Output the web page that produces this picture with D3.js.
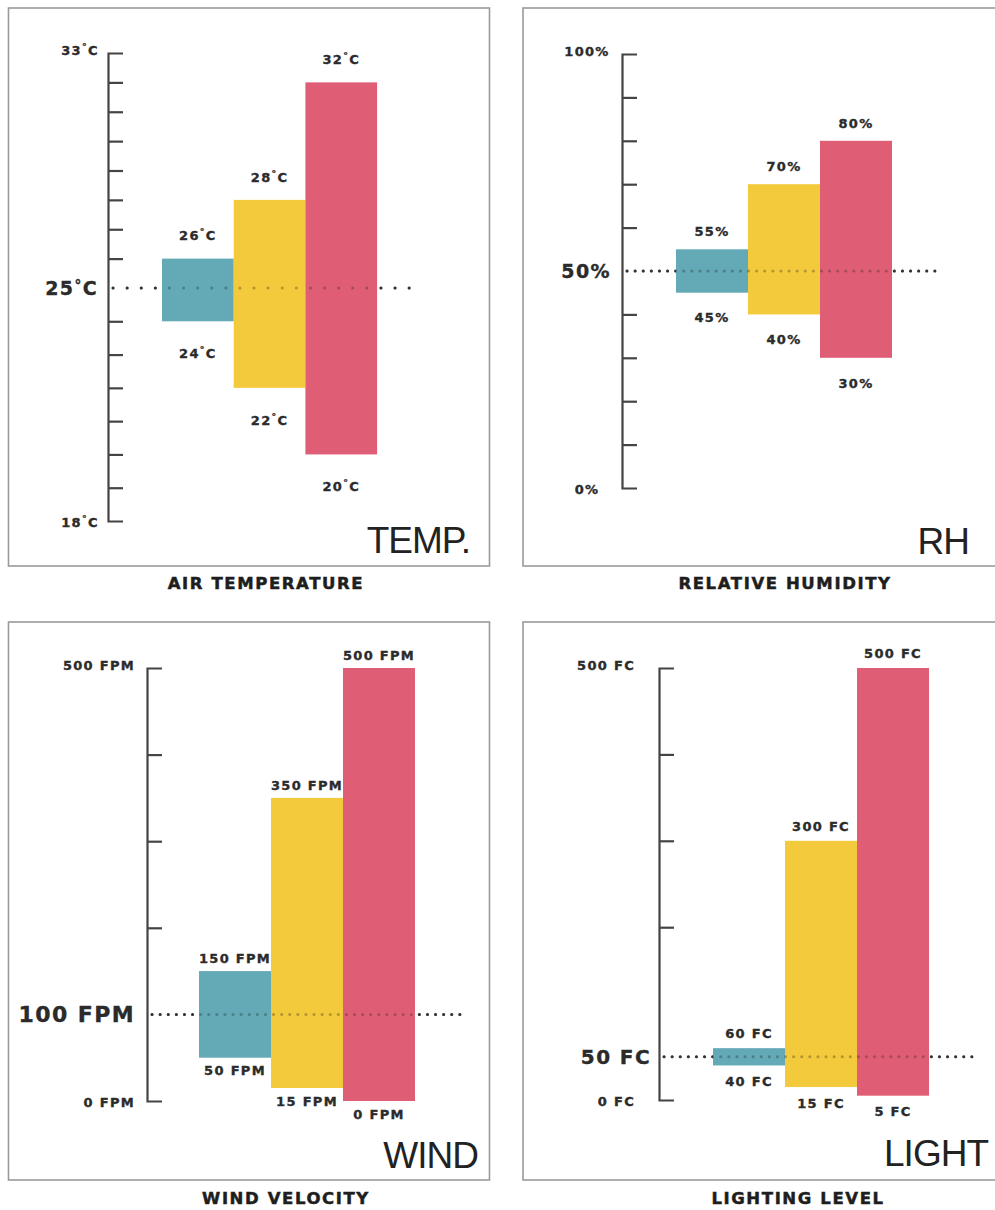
<!DOCTYPE html>
<html>
<head>
<meta charset="utf-8">
<script src="https://cdn.jsdelivr.net/npm/d3@7"></script>
<style>
  body { margin: 0; background: #fff; }
  svg { display: block; }
  .lbl { font-family: "DejaVu Sans", sans-serif; font-weight: bold; fill: #2b2b2b; stroke: #2b2b2b; stroke-width: 0.35px; }
  .title { font-family: "Liberation Sans", Arial, sans-serif; fill: #222; }
</style>
</head>
<body>
<svg id="chart" width="995" height="1210"></svg>
<script>
// Three comfort ranges per factor: narrow (teal), medium (yellow), wide (red)
const rangeColors = ["#5DA5B3", "#F3C834", "#DE5770"];

// Air temperature, °C
const tempLow  = [24, 22, 20];
const tempHigh = [26, 28, 32];
const tempEnds = [18, 33];
const tempRef  = 25;
const tempTicks = d3.range(19, 33).filter(v => v !== 25);

// Relative humidity, %
const rhLow  = [45, 40, 30];
const rhHigh = [55, 70, 80];
const rhEnds = [0, 100];
const rhRef  = 50;
const rhTicks = [10, 20, 30, 40, 60, 70, 80, 90];

// Wind velocity, FPM
const windLow  = [50, 15, 0];
const windHigh = [150, 350, 500];
const windEnds = [0, 500];
const windRef  = 100;
const windTicks = [200, 300, 400];

// Lighting level, FC
const lightLow  = [40, 15, 5];
const lightHigh = [60, 300, 500];
const lightEnds = [0, 500];
const lightRef  = 50;
const lightTicks = [200, 300, 400];

const panelTitles   = ["TEMP.", "RH", "WIND", "LIGHT"];
const panelCaptions = ["AIR TEMPERATURE", "RELATIVE HUMIDITY", "WIND VELOCITY", "LIGHTING LEVEL"];
const unitSuffix    = ["°C", "%", " FPM", " FC"];

const svg = d3.select("#chart");

// Write a value with its unit; the degree sign is set as a small raised mark
function writeValue(text, v, unit) {
  if (unit === "°C") {
    text.append("tspan").text(v);
    text.append("tspan").attr("font-size", "0.72em").attr("dy", -5).text("°");
    text.append("tspan").attr("dy", 5).text("C");
  } else {
    text.text(v + unit);
  }
}

function drawPanel(cfg) {
  const g = svg.append("g");

  // frame
  g.append("rect")
    .attr("x", cfg.frame[0]).attr("y", cfg.frame[1])
    .attr("width", cfg.frame[2] - cfg.frame[0]).attr("height", cfg.frame[3] - cfg.frame[1])
    .attr("fill", "none").attr("stroke", "#9a9a9a").attr("stroke-width", 1.6);

  const y = d3.scaleLinear().domain(cfg.domain).range(cfg.range);
  const x = d3.scaleBand().domain(d3.range(cfg.low.length))
    .range([cfg.barX0, cfg.barX0 + cfg.barW * cfg.low.length]).padding(0);

  // dotted reference line
  g.append("line")
    .attr("x1", cfg.axisX + 5).attr("x2", cfg.dotEnd)
    .attr("y1", y(cfg.ref)).attr("y2", y(cfg.ref))
    .attr("stroke", "#333").attr("stroke-width", 3)
    .attr("stroke-linecap", "round")
    .attr("stroke-dasharray", `0.1 ${cfg.dotGap}`);

  // range bars
  g.selectAll("rect.bar").data(cfg.low).enter().append("rect")
    .attr("class", "bar")
    .attr("x", (d, i) => x(i))
    .attr("width", x.bandwidth())
    .attr("y", (d, i) => y(cfg.high[i]))
    .attr("height", (d, i) => y(d) - y(cfg.high[i]))
    .attr("fill", (d, i) => rangeColors[i])
    .attr("fill-opacity", 0.96);

  // the dots show faintly through the bars
  g.append("line")
    .attr("x1", cfg.axisX + 5).attr("x2", cfg.dotEnd)
    .attr("y1", y(cfg.ref)).attr("y2", y(cfg.ref))
    .attr("stroke", "#333").attr("stroke-opacity", 0.3).attr("stroke-width", 3)
    .attr("stroke-linecap", "round")
    .attr("stroke-dasharray", `0.1 ${cfg.dotGap}`);

  // axis with bracket ends
  const axis = d3.axisRight(y).tickValues(cfg.ticks).tickSize(15).tickSizeOuter(15).tickFormat("");
  const ag = g.append("g").attr("transform", `translate(${cfg.axisX},0)`).call(axis);
  ag.select(".domain").attr("stroke", "#444").attr("stroke-width", 2.2).attr("fill", "none");
  ag.selectAll(".tick line").attr("stroke", "#444").attr("stroke-width", 2.2);

  const fs = 13;
  const cap = fs * 0.73;

  // axis end labels
  cfg.ends.forEach((v, i) => {
    const t = g.append("text").attr("class", "lbl")
      .attr("font-size", fs).attr("letter-spacing", 1.3)
      .attr("text-anchor", cfg.endAnchor)
      .attr("x", cfg.endX)
      .attr("y", y(v) + cap / 2 + (i === 1 ? -3 : 1));
    writeValue(t, v, cfg.unit);
  });

  // reference value label
  const rt = g.append("text").attr("class", "lbl")
    .attr("font-size", cfg.refSize).attr("letter-spacing", 1.4)
    .attr("text-anchor", "end")
    .attr("x", cfg.refX)
    .attr("y", y(cfg.ref) + cfg.refSize * 0.73 / 2);
  writeValue(rt, cfg.ref, cfg.unit);

  // value labels above and below each bar
  cfg.high.forEach((v, i) => {
    const t = g.append("text").attr("class", "lbl")
      .attr("font-size", fs).attr("letter-spacing", 1.3)
      .attr("text-anchor", "middle")
      .attr("x", x(i) + x.bandwidth() / 2)
      .attr("y", y(v) - cfg.topGap + cap / 2);
    writeValue(t, v, cfg.unit);
  });
  cfg.low.forEach((v, i) => {
    const t = g.append("text").attr("class", "lbl")
      .attr("font-size", fs).attr("letter-spacing", 1.3)
      .attr("text-anchor", "middle")
      .attr("x", x(i) + x.bandwidth() / 2)
      .attr("y", y(v) + cfg.botGap + cap / 2);
    writeValue(t, v, cfg.unit);
  });

  // large title in the corner
  g.append("text").attr("class", "title")
    .attr("font-size", 37).attr("letter-spacing", -1)
    .attr("text-anchor", "end")
    .attr("x", cfg.titleX).attr("y", cfg.titleY)
    .text(cfg.title);

  // caption under the frame
  g.append("text").attr("class", "lbl")
    .attr("font-size", 16.5).attr("letter-spacing", 1.6)
    .attr("text-anchor", "middle")
    .style("fill", "#1e1e1e").style("stroke", "#1e1e1e").style("stroke-width", "0.5px")
    .attr("x", cfg.capX).attr("y", cfg.capY)
    .text(cfg.caption);
}

drawPanel({
  frame: [8.5, 8, 489.5, 566],
  domain: [tempEnds[0], tempRef, tempEnds[1]], range: [521, 288, 53],
  low: tempLow, high: tempHigh, ends: tempEnds, ref: tempRef, ticks: tempTicks, unit: unitSuffix[0],
  axisX: 108, barX0: 162, barW: 71.7, dotEnd: 416, dotGap: 14,
  endAnchor: "middle", endX: 80, refX: 98, refSize: 19,
  topGap: 23, botGap: 32,
  title: panelTitles[0], titleX: 470, titleY: 553,
  caption: panelCaptions[0], capX: 266, capY: 589
});

drawPanel({
  frame: [523, 8, 998, 566],
  domain: rhEnds, range: [488, 54],
  low: rhLow, high: rhHigh, ends: rhEnds, ref: rhRef, ticks: rhTicks, unit: unitSuffix[1],
  axisX: 622, barX0: 676, barW: 72, dotEnd: 937, dotGap: 8,
  endAnchor: "middle", endX: 587, refX: 611, refSize: 19,
  topGap: 18, botGap: 25,
  title: panelTitles[1], titleX: 969, titleY: 554,
  caption: panelCaptions[1], capX: 785, capY: 589
});

drawPanel({
  frame: [8.5, 622, 489.5, 1180],
  domain: windEnds, range: [1101, 668],
  low: windLow, high: windHigh, ends: windEnds, ref: windRef, ticks: windTicks, unit: unitSuffix[2],
  axisX: 147, barX0: 199, barW: 72, dotEnd: 462, dotGap: 8,
  endAnchor: "end", endX: 135, refX: 135, refSize: 22,
  topGap: 13, botGap: 13,
  title: panelTitles[2], titleX: 478, titleY: 1168,
  caption: panelCaptions[2], capX: 286, capY: 1204
});

drawPanel({
  frame: [523, 622, 998, 1180],
  domain: lightEnds, range: [1100, 668],
  low: lightLow, high: lightHigh, ends: lightEnds, ref: lightRef, ticks: lightTicks, unit: unitSuffix[3],
  axisX: 659, barX0: 713, barW: 72, dotEnd: 973, dotGap: 8,
  endAnchor: "end", endX: 635, refX: 651, refSize: 20,
  topGap: 15, botGap: 16,
  title: panelTitles[3], titleX: 988, titleY: 1166,
  caption: panelCaptions[3], capX: 798, capY: 1204
});
</script>
</body>
</html>
